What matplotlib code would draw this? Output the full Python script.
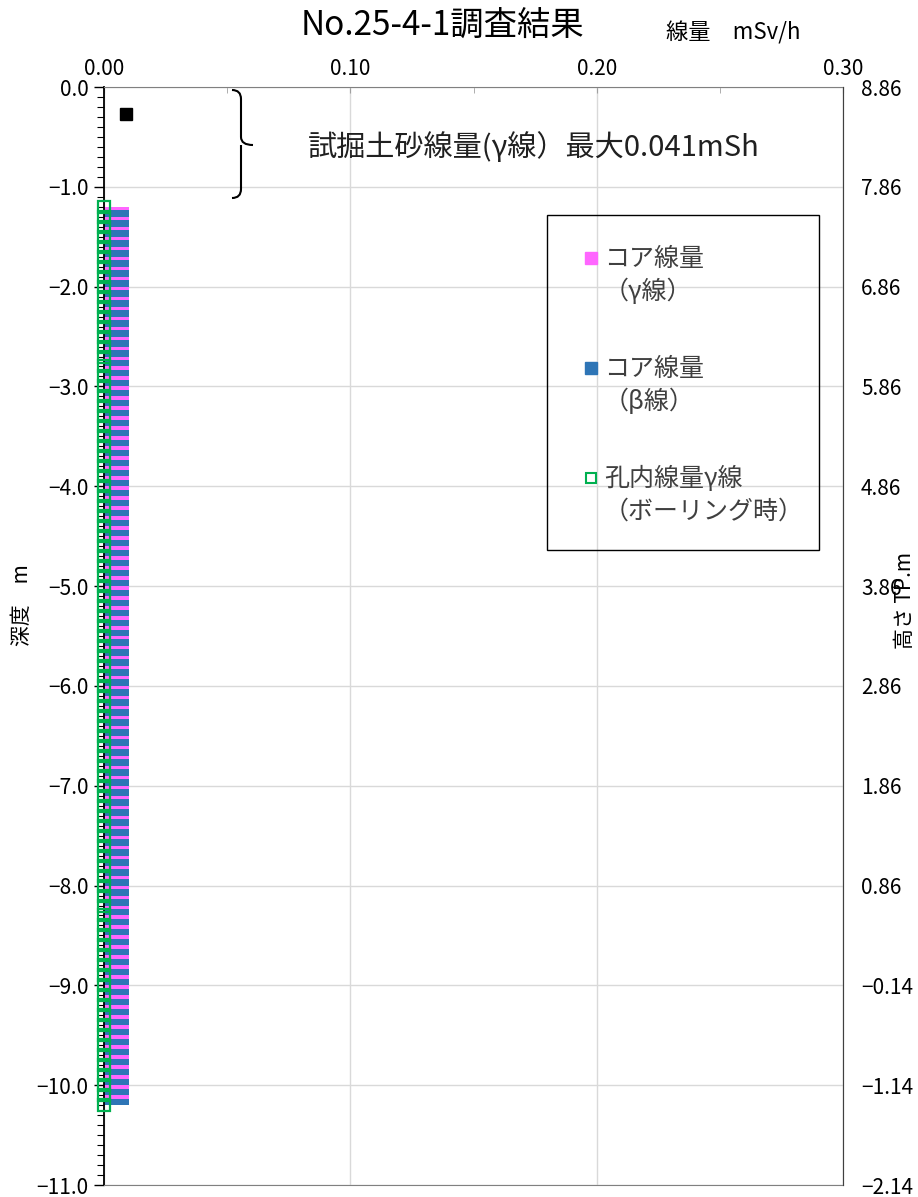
import numpy as np
import matplotlib
matplotlib.use("Agg")
import matplotlib.pyplot as plt
from matplotlib.lines import Line2D
from matplotlib.patches import PathPatch, Rectangle
from matplotlib.path import Path
from matplotlib.ticker import MultipleLocator, FuncFormatter

plt.rcParams['font.family'] = ['Noto Sans CJK JP', 'DejaVu Sans']

# depth of the top of each 0.1 m core section (m)
core_depth = np.round(np.arange(-1.2, -10.15, -0.1), 1)
# core dose rate, gamma (mSv/h)
core_gamma = [
    0.010, 0.010, 0.010, 0.010, 0.010, 0.010, 0.010, 0.010, 0.010, 0.010,
    0.010, 0.010, 0.010, 0.010, 0.010, 0.010, 0.010, 0.010, 0.010, 0.010,
    0.010, 0.010, 0.010, 0.010, 0.010, 0.010, 0.010, 0.010, 0.010, 0.010,
    0.010, 0.010, 0.010, 0.010, 0.010, 0.010, 0.010, 0.010, 0.010, 0.010,
    0.010, 0.010, 0.010, 0.010, 0.010, 0.010, 0.010, 0.010, 0.010, 0.010,
    0.010, 0.010, 0.010, 0.010, 0.010, 0.010, 0.010, 0.010, 0.010, 0.010,
    0.010, 0.010, 0.010, 0.010, 0.010, 0.010, 0.010, 0.010, 0.010, 0.010,
    0.010, 0.010, 0.010, 0.010, 0.010, 0.010, 0.010, 0.010, 0.010, 0.010,
    0.010, 0.010, 0.010, 0.010, 0.010, 0.010, 0.010, 0.010, 0.010, 0.010,
]
# core dose rate, beta (mSv/h)
core_beta = [
    0.010, 0.010, 0.010, 0.010, 0.010, 0.010, 0.010, 0.010, 0.010, 0.010,
    0.010, 0.010, 0.010, 0.010, 0.010, 0.010, 0.010, 0.010, 0.010, 0.010,
    0.010, 0.010, 0.010, 0.010, 0.010, 0.010, 0.010, 0.010, 0.010, 0.010,
    0.010, 0.010, 0.010, 0.010, 0.010, 0.010, 0.010, 0.010, 0.010, 0.010,
    0.010, 0.010, 0.010, 0.010, 0.010, 0.010, 0.010, 0.010, 0.010, 0.010,
    0.010, 0.010, 0.010, 0.010, 0.010, 0.010, 0.010, 0.010, 0.010, 0.010,
    0.010, 0.010, 0.010, 0.010, 0.010, 0.010, 0.010, 0.010, 0.010, 0.010,
    0.010, 0.010, 0.010, 0.010, 0.010, 0.010, 0.010, 0.010, 0.010, 0.010,
    0.010, 0.010, 0.010, 0.010, 0.010, 0.010, 0.010, 0.010, 0.010, 0.010,
]
# borehole gamma measured while drilling
hole_depth = np.round(np.arange(-1.2, -10.25, -0.1), 1)
hole_gamma = [0.000] * len(hole_depth)

# test pit soil
pit_depth = [-0.27]
pit_gamma = [0.009]

elev_offset = 8.86  # TP elevation at depth 0

series_labels = ['コア線量\n（γ線）', 'コア線量\n（β線）', '孔内線量γ線\n（ボーリング時）']

pink = '#FF66FF'
blue = '#2E75B6'
green = '#00B050'
grid_c = '#D9D9D9'
W, H = 918, 1197


def minus_fmt(fmt):
    return FuncFormatter(lambda v, p: (fmt % v).replace('-', '\u2212'))


fig = plt.figure(figsize=(W / 100, H / 100), dpi=100)
ax = fig.add_axes([104 / W, 1 - 1185 / H, 739 / W, 1098 / H])

# each 0.1 m section: gamma in the upper part, beta in the lower part
ax.barh(core_depth - 0.0175, core_gamma, height=0.035, left=0, color=pink, zorder=2)
ax.barh(core_depth - 0.0675, core_beta, height=0.065, left=0, color=blue, zorder=2)
ax.plot(hole_gamma, hole_depth, ls='none', marker='s', ms=8.5, mfc='none',
        mec=green, mew=1.6, zorder=4, clip_on=False)
ax.plot(pit_gamma, pit_depth, ls='none', marker='s', ms=9, color='black',
        zorder=4)

ax.set_xlim(0, 0.30)
ax.set_ylim(-11.0, 0.0)
ax.xaxis.tick_top()
ax.xaxis.set_major_locator(MultipleLocator(0.10))
ax.xaxis.set_minor_locator(MultipleLocator(0.05))
ax.xaxis.set_major_formatter(minus_fmt('%.2f'))
ax.yaxis.set_major_locator(MultipleLocator(1.0))
ax.yaxis.set_minor_locator(MultipleLocator(0.1))
ax.yaxis.set_major_formatter(minus_fmt('%.1f'))
ax.tick_params(axis='x', which='both', direction='in', length=4, color='#A0A0A0',
               labelsize=15, pad=5)
ax.tick_params(axis='y', which='major', direction='out', length=7, width=1,
               labelsize=15, pad=4)
ax.tick_params(axis='y', which='minor', direction='out', length=5, width=0.8)
ax.grid(True, which='major', color=grid_c, lw=1, zorder=0)
ax.set_axisbelow(True)
for s in ('top', 'right'):
    ax.spines[s].set_color('#808080')
ax.spines['left'].set_color('black')
ax.spines['left'].set_linewidth(1.3)
ax.spines['bottom'].set_color('#808080')

ax2 = ax.twinx()
ax2.set_ylim(-11.0 + elev_offset, 0.0 + elev_offset)
ax2.set_yticks(np.round(np.arange(elev_offset, -2.15, -1.0), 2))
ax2.yaxis.set_major_formatter(minus_fmt('%.2f'))
ax2.tick_params(axis='y', length=0, labelsize=15, pad=13)
ax2.spines['right'].set_color('#404040')
for s in ('top', 'left', 'bottom'):
    ax2.spines[s].set_visible(False)

# brace for the test-pit note
bx = lambda px: (px - 104) / 739 * 0.30
by = lambda py: -(py - 87) / 99.8
verts = [(bx(232), by(90)), (bx(241), by(90)), (bx(241), by(99)),
         (bx(241), by(137)),
         (bx(241), by(145)), (bx(253), by(145)),
         (bx(241), by(145)), (bx(241), by(153)),
         (bx(241), by(189)),
         (bx(241), by(198)), (bx(232), by(198))]
codes = [Path.MOVETO, Path.CURVE3, Path.CURVE3, Path.LINETO,
         Path.CURVE3, Path.CURVE3, Path.MOVETO, Path.CURVE3,
         Path.LINETO, Path.CURVE3, Path.CURVE3]
ax.add_patch(PathPatch(Path(verts, codes), fill=False, lw=1.5, ec='black',
                       clip_on=False, zorder=5))
ax.text(bx(308), by(148), '試掘土砂線量(γ線）最大0.041mSh', fontsize=21,
        ha='left', va='center', color='#202020')

# legend drawn by hand so each marker sits on the first text line
fig.patches.append(Rectangle((547 / W, 1 - 550 / H), 272 / W, 335 / H,
                             transform=fig.transFigure, fill=False,
                             ec='black', lw=1.0, zorder=6))
handles = [
    dict(marker='s', ms=9, color=pink),
    dict(marker='s', ms=9, color=blue),
    dict(marker='s', ms=7, mfc='white', mec=green, mew=1.5),
]
for i, (lab, hd) in enumerate(zip(series_labels, handles)):
    y0 = 258 + i * 110
    fig.add_artist(Line2D([591 / W], [1 - y0 / H], ls='none',
                          transform=fig.transFigure, zorder=7, **hd))
    fig.text(604 / W, 1 - (y0 - 12) / H, lab, fontsize=18, color='#404040',
             ha='left', va='top', linespacing=1.3, zorder=7)

fig.text(442 / W, 1 - 25 / H, 'No.25-4-1調査結果', fontsize=24,
         ha='center', va='center')
fig.text(733 / W, 1 - 33 / H, '線量　mSv/h', fontsize=16,
         ha='center', va='center')
fig.text(22 / W, 1 - 605 / H, '深度　m', fontsize=15, rotation=90,
         ha='center', va='center')
fig.text(905 / W, 1 - 600 / H, '高さ TP.m', fontsize=15, rotation=90,
         ha='center', va='center')

fig.savefig('out.png', dpi=100)
